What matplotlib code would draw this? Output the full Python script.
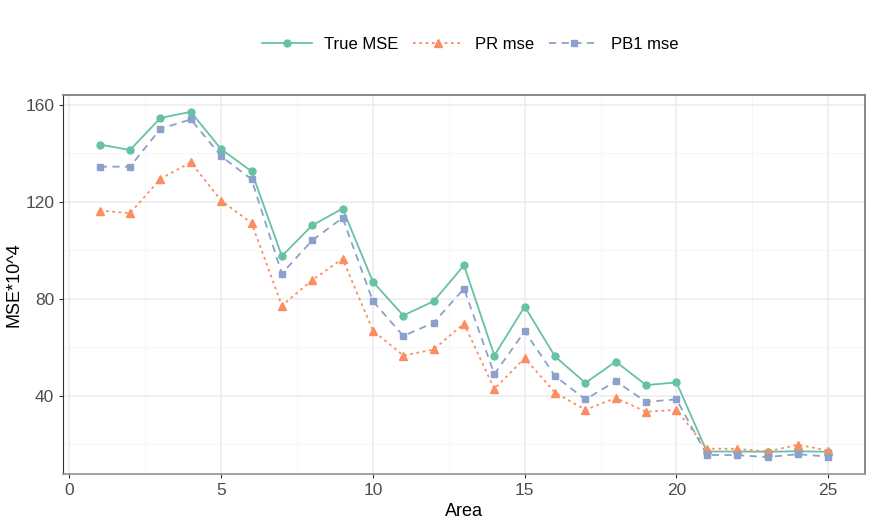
import matplotlib
matplotlib.use("Agg")
import matplotlib.pyplot as plt

area = list(range(1, 26))
true_mse = [143.5, 141.3, 154.5, 157.0, 141.6, 132.5, 97.5, 110.2, 117.1, 86.9,
            73.0, 78.9, 93.7, 56.5, 76.7, 56.1, 45.2, 54.0, 44.3, 45.4,
            16.9, 16.9, 16.8, 17.0, 16.8]
pr_mse = [116.3, 115.2, 129.4, 136.2, 120.4, 111.2, 77.1, 87.6, 96.4, 66.8,
          56.5, 59.0, 69.7, 42.7, 55.4, 41.2, 34.1, 39.0, 33.3, 34.1,
          18.1, 18.0, 16.9, 19.7, 17.3]
pb1_mse = [134.4, 134.4, 150.0, 153.9, 138.7, 129.2, 90.3, 104.0, 113.3, 78.9,
           64.6, 70.0, 84.1, 48.8, 66.5, 48.0, 38.4, 45.9, 37.4, 38.4,
           15.5, 15.4, 14.6, 15.8, 14.8]

plt.rcParams['font.family'] = ['Liberation Sans', 'DejaVu Sans']

fig = plt.figure(figsize=(8.72, 5.23), dpi=100)
ax = fig.add_axes([0.0726, 0.0931, 0.919, 0.7259])

ax.plot(area, true_mse, color='#66C2A5', lw=1.3, ls='-', marker='o', ms=5, label='True MSE')
ax.plot(area, pr_mse, color='#FC8D62', lw=1.3, ls=(0, (1.5, 2)), marker='^', ms=6, label='PR mse')
ax.plot(area, pb1_mse, color='#8DA0CB', lw=1.3, ls=(0, (4, 3)), marker='s', ms=5, label='PB1 mse')

ax.set_xlim(-0.2, 26.2)
ax.set_ylim(7.5, 164.1)
ax.set_xticks([0, 5, 10, 15, 20, 25])
ax.set_yticks([40, 80, 120, 160])
ax.set_xticks([2.5, 7.5, 12.5, 17.5, 22.5], minor=True)
ax.set_yticks([20, 60, 100, 140], minor=True)
ax.grid(which='major', color='#EBEBEB', lw=1.1)
ax.grid(which='minor', color='#F5F5F5', lw=0.6)
ax.set_axisbelow(True)
ax.tick_params(which='major', length=3, color='#333333', labelsize=12.5, labelcolor='#4D4D4D')
ax.tick_params(which='minor', length=0)

for side in ['top', 'right']:
    ax.spines[side].set_color('#7F7F7F')
    ax.spines[side].set_linewidth(1.3)
ax.spines['left'].set_color('#333333')
ax.spines['left'].set_linewidth(0.8)
ax.spines['bottom'].set_color('#9A9A9A')
ax.spines['bottom'].set_linewidth(1.3)

ax.set_xlabel('Area', fontsize=13, labelpad=3)
ax.set_ylabel('MSE*10^4', fontsize=13, labelpad=2)

fig.legend(loc='center', bbox_to_anchor=(0.539, 0.915), ncol=3, frameon=False,
           fontsize=12, handlelength=3.0, columnspacing=0.9, handletextpad=0.7)

fig.savefig('out.png', dpi=100)
